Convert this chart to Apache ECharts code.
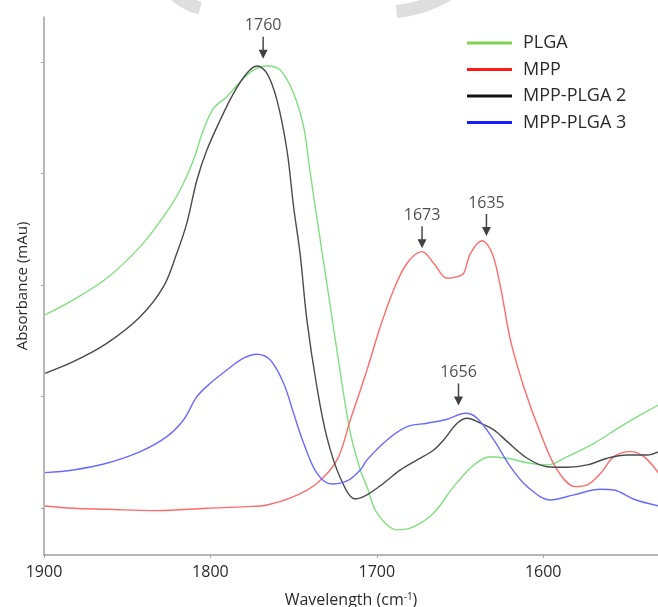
<!DOCTYPE html>
<html>
<head>
<meta charset="utf-8">
<script src="https://cdn.jsdelivr.net/npm/echarts@6/dist/echarts.min.js"></script>
<style>
  html, body { margin: 0; padding: 0; background: #ffffff; }
  #chart { width: 658px; height: 607px; }
</style>
</head>
<body>
<div id="chart"></div>
<script>
// ---- data ----
const seriesNames = ['PLGA', 'MPP', 'MPP-PLGA 2', 'MPP-PLGA 3'];
const xTicks = [1600, 1700, 1800, 1900];
const yTicks = [1, 2, 3, 4, 5];

const plgaWl  = [1899.4, 1882.4, 1862.3, 1842.2, 1828.2, 1818.2, 1810.2, 1804.2, 1798.1, 1790.1, 1782.1, 1774.1, 1766.0, 1758.0, 1750.0, 1744.0, 1740.0, 1734.0, 1727.9, 1721.9, 1715.9, 1709.9, 1705.9, 1699.9, 1687.8, 1677.8, 1665.8, 1653.8, 1641.7, 1631.7, 1621.6, 1609.6, 1597.6, 1585.6, 1569.5, 1553.5, 1541.5, 1530.6];
const plgaAbs = [2.731, 2.866, 3.060, 3.344, 3.613, 3.852, 4.121, 4.390, 4.585, 4.689, 4.823, 4.928, 4.964, 4.928, 4.719, 4.420, 4.005, 3.404, 2.805, 2.211, 1.673, 1.341, 1.191, 0.955, 0.803, 0.832, 0.955, 1.191, 1.386, 1.460, 1.446, 1.406, 1.386, 1.460, 1.580, 1.729, 1.834, 1.924];

const mppWl  = [1899.4, 1882.4, 1862.3, 1832.2, 1802.1, 1778.1, 1766.0, 1750.0, 1735.9, 1723.9, 1715.9, 1705.9, 1697.9, 1689.9, 1681.8, 1672.8, 1665.8, 1657.7, 1651.7, 1647.8, 1643.7, 1636.7, 1630.7, 1625.7, 1619.7, 1611.7, 1601.6, 1591.6, 1580.6, 1573.5, 1565.5, 1557.5, 1547.5, 1539.5, 1530.6];
const mppAbs = [1.018, 0.997, 0.988, 0.976, 0.997, 1.012, 1.027, 1.101, 1.222, 1.431, 1.789, 2.238, 2.626, 2.955, 3.195, 3.299, 3.195, 3.060, 3.075, 3.105, 3.284, 3.397, 3.284, 2.985, 2.507, 2.088, 1.670, 1.341, 1.191, 1.206, 1.311, 1.460, 1.505, 1.460, 1.311];

const mix2Wl  = [1899.4, 1882.4, 1862.3, 1842.2, 1828.2, 1820.2, 1814.2, 1808.1, 1802.1, 1794.1, 1786.1, 1778.1, 1772.0, 1766.0, 1760.0, 1754.0, 1750.0, 1746.0, 1742.0, 1735.9, 1729.9, 1721.9, 1712.9, 1705.9, 1695.9, 1685.8, 1675.8, 1665.8, 1659.8, 1651.7, 1645.7, 1637.7, 1629.7, 1621.6, 1609.6, 1597.6, 1585.6, 1573.5, 1561.5, 1549.5, 1537.4, 1530.6];
const mix2Abs = [2.208, 2.312, 2.477, 2.716, 2.985, 3.284, 3.553, 3.942, 4.211, 4.480, 4.719, 4.899, 4.964, 4.899, 4.659, 4.211, 3.702, 3.269, 2.686, 2.076, 1.628, 1.269, 1.081, 1.117, 1.222, 1.341, 1.431, 1.520, 1.610, 1.760, 1.805, 1.760, 1.700, 1.595, 1.446, 1.370, 1.365, 1.386, 1.446, 1.475, 1.475, 1.505];

const mix3Wl  = [1899.4, 1882.4, 1862.3, 1842.2, 1826.2, 1816.2, 1808.1, 1800.1, 1790.1, 1780.1, 1772.0, 1764.0, 1756.0, 1750.0, 1744.0, 1735.9, 1726.9, 1717.9, 1709.9, 1705.9, 1693.8, 1681.8, 1669.8, 1657.7, 1646.7, 1639.7, 1629.7, 1619.7, 1609.6, 1595.6, 1581.6, 1565.5, 1557.5, 1545.5, 1530.6];
const mix3Abs = [1.317, 1.341, 1.401, 1.505, 1.640, 1.789, 1.998, 2.118, 2.238, 2.343, 2.379, 2.327, 2.118, 1.849, 1.583, 1.311, 1.215, 1.242, 1.341, 1.431, 1.610, 1.729, 1.760, 1.796, 1.849, 1.805, 1.610, 1.370, 1.191, 1.072, 1.117, 1.168, 1.161, 1.078, 1.018];

// peak annotations: label text and arrow-tip location (wavelength, absorbance)
const peakLabels = ['1760', '1673', '1635', '1656'];
const peakWl     = [1768.3, 1672.8, 1634.1, 1650.9];
const peakAbs    = [5.03, 3.33, 3.44, 1.92];

// ---- chart ----
const FONT = '"Open Sans", "Noto Sans", sans-serif';
const lineColors   = ['#80e080', '#ff6b6b', '#4a4a4a', '#6b6bff'];
const legendColors = ['#7fd34e', '#ff1a1a', '#111111', '#1a1aff'];
const wls  = [plgaWl, mppWl, mix2Wl, mix3Wl];
const abss = [plgaAbs, mppAbs, mix2Abs, mix3Abs];

const chart = echarts.init(document.getElementById('chart'), null, { renderer: 'canvas' });

const lineSeries = seriesNames.map((name, i) => ({
  name: name,
  type: 'line',
  data: wls[i].map((w, k) => [w, abss[i][k]]),
  showSymbol: false,
  smooth: 0.35,
  lineStyle: { color: lineColors[i], width: 1.4 },
  itemStyle: { color: lineColors[i] },
  silent: true,
  z: 2 + i
}));

const arrowSeries = {
  name: 'peaks',
  type: 'scatter',
  data: peakLabels.map((t, i) => ({ value: [peakWl[i], peakAbs[i]], name: t })),
  symbol: 'path://M4.2,0 L5.8,0 L5.8,13 L10,13 L5,22 L0,13 L4.2,13 Z',
  symbolSize: [9, 22],
  symbolOffset: [0, '-50%'],
  itemStyle: { color: '#111111' },
  label: {
    show: true,
    position: 'top',
    distance: 3,
    formatter: p => p.name,
    color: '#1e1e1e',
    fontSize: 16,
    fontFamily: FONT
  },
  silent: true,
  z: 10
};

chart.setOption({
  animation: false,
  backgroundColor: '#ffffff',
  grid: { left: 44, right: 0, top: 17, bottom: 52, containLabel: false, outerBoundsMode: 'none' },
  graphic: [
    { type: 'arc', silent: true, z: -1,
      shape: { cx: 215, cy: -50, r: 60, startAngle: Math.PI * 0.58, endAngle: Math.PI * 0.85 },
      style: { stroke: '#dedede', lineWidth: 13, fill: null } },
    { type: 'arc', silent: true, z: -1,
      shape: { cx: 385, cy: -110, r: 122, startAngle: Math.PI * 0.30, endAngle: Math.PI * 0.47 },
      style: { stroke: '#dedede', lineWidth: 13, fill: null } }
  ],
  legend: {
    orient: 'vertical',
    left: 467,
    top: 33,
    padding: 0,
    itemGap: 6.5,
    itemWidth: 45,
    itemHeight: 3,
    icon: 'rect',
    data: seriesNames.map((n, i) => ({
      name: n,
      itemStyle: { color: legendColors[i] }
    })),
    textStyle: {
      fontSize: 18,
      fontFamily: FONT,
      color: '#2a2a2a',
      lineHeight: 20,
      padding: [0, 0, 0, 6]
    },
    selectedMode: false
  },
  xAxis: {
    type: 'value',
    inverse: true,
    min: 1531,
    max: 1900,
    name: 'Wavelength (cm{sup|-1})',
    nameLocation: 'middle',
    nameGap: 37,
    nameTextStyle: {
      fontSize: 16,
      fontFamily: FONT,
      color: '#2a2a2a',
      rich: {
        sup: { fontSize: 10, fontFamily: FONT, color: '#2a2a2a', verticalAlign: 'top', padding: [0, 0, 6, 0] }
      }
    },
    axisLine: { show: true, lineStyle: { color: '#a0a0a0', width: 1.5 } },
    axisTick: { show: true, length: 3, customValues: xTicks, lineStyle: { color: '#a0a0a0' } },
    axisLabel: {
      show: true,
      customValues: xTicks,
      formatter: v => String(v),
      margin: 9,
      fontSize: 16,
      fontFamily: FONT,
      color: '#2a2a2a'
    },
    splitLine: { show: false }
  },
  yAxis: {
    type: 'value',
    min: 0.578,
    max: 5.404,
    name: 'Absorbance (mAu)',
    nameLocation: 'middle',
    nameGap: 14,
    nameTextStyle: { fontSize: 15, fontFamily: FONT, color: '#2a2a2a' },
    axisLine: { show: true, lineStyle: { color: '#a0a0a0', width: 1.5 } },
    axisTick: { show: true, length: 3, customValues: yTicks, lineStyle: { color: '#a0a0a0' } },
    axisLabel: { show: false },
    splitLine: { show: false }
  },
  series: lineSeries.concat([arrowSeries])
});
</script>
</body>
</html>
